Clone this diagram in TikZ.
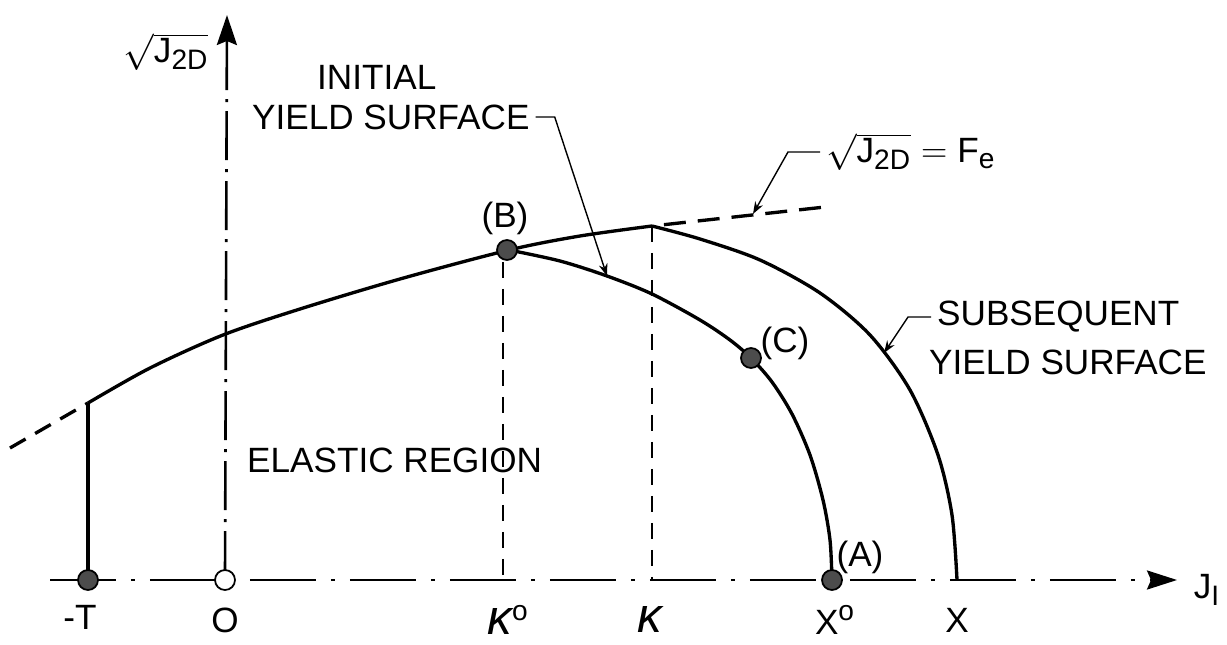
\documentclass[tikz,border=0pt]{standalone}
\usepackage{fontspec}
\setmainfont{Liberation Sans}
\usepackage{amsmath}
\DeclareMathSizes{20}{20}{16}{12}
\usetikzlibrary{arrows.meta, positioning}

\newcommand{\kap}{{\fontsize{28}{28}\selectfont\itshape κ}}

\begin{document}
\begin{tikzpicture}[x=0.02cm, y=-0.02cm,
  lbl/.style={font=\fontsize{20}{24}\selectfont},
  curve/.style={line width=1.9pt, line join=round},
  ext/.style={line width=1.9pt, dash pattern=on 0.44cm off 0.24cm},
  proj/.style={line width=1.1pt, dash pattern=on 0.32cm off 0.22cm},
  haxis/.style={line width=1.5pt, dash pattern=on 1.32cm off 0.3cm on 0.08cm off 0.3cm,
                -{Stealth[length=0.6cm, width=0.38cm, inset=0.08cm]}},
  vaxis/.style={line width=1.5pt, dash pattern=on 0.98cm off 0.18cm on 0.06cm off 0.18cm,
                -{Stealth[length=0.6cm, width=0.4cm, inset=0.08cm]}},
  ldr/.style={line width=0.8pt, -{Stealth[length=7pt, width=5pt]}},
  statept/.style={circle, draw=black, fill=black!70, line width=1pt,
                  minimum size=0.4cm, inner sep=0pt},
  opendot/.style={statept, fill=white}
]
  \useasboundingbox (0,0) rectangle (1227,645);

  \coordinate (xstart) at (50,580);
  \coordinate (xtip)   at (1177,580);
  \coordinate (O)      at (225,580);
  \coordinate (ytip)   at (227,15);
  \coordinate (T)      at (88,580);
  \coordinate (Tc)     at (88,403);
  \coordinate (Tx)     at (10,448);
  \coordinate (B)      at (507,250);
  \coordinate (Bd)     at (503,262);
  \coordinate (Bo)     at (503,580);
  \coordinate (K)      at (652,226);
  \coordinate (Ko)     at (652,580);
  \coordinate (Fx)     at (825,207);
  \coordinate (C)      at (751,358);
  \coordinate (A)      at (832,580);
  \coordinate (X)      at (957,580);
  \coordinate (pInit)  at (607,276);
  \coordinate (pFe)    at (753,214);
  \coordinate (pSub)   at (884,353);

  \draw[haxis] (xstart) -- (xtip);
  \draw[vaxis] (O) -- (ytip);

  \draw[ext, dash pattern=on 0.36cm off 0.22cm] (Tx) -- (Tc);
  \draw[curve] (T) -- (Tc);
  \draw[curve] plot[smooth] coordinates {(88,403) (150,368) (223,335) (300,309)
    (400,279) (509,250) (580,236) (652,226)};
  \draw[ext, dash phase=0.44cm] (K) -- (Fx);

  \draw[curve] plot[smooth] coordinates {(509,250) (560,261) (607,276) (652,294)
    (700,320) (730,340) (751,358) (772,382) (792,414) (810,455) (823,500)
    (830,540) (832,580)};
  \draw[curve] plot[smooth] coordinates {(652,226) (700,239) (760,260) (820,293)
    (870,335) (910,390) (938,455) (952,515) (957,580)};

  \draw[proj] (Bd) -- (Bo);
  \draw[proj] (K) -- (Ko);

  \node[statept] (Tdot) at (T) {};
  \node[opendot] (Odot) at (O) {};
  \node[statept] (Bdot) at (B) {};
  \node[statept] (Cdot) at (C) {};
  \node[statept] (Adot) at (A) {};

  \node[lbl] (ylbl) at (166,52) {$\sqrt{\text{J}_{\text{2D}}}$};
  \node[lbl, anchor=west] (init1) at (311,77) {INITIAL};
  \node[lbl, anchor=west] (init2) at (246,117) {YIELD SURFACE};
  \node[lbl, anchor=west] (fe) at (820,152) {$\sqrt{\text{J}_{\text{2D}}} = \text{F}_{\text{e}}$};
  \node[lbl, anchor=west] (sub1) at (931,317) {SUBSEQUENT};
  \node[lbl, anchor=west] (sub2) at (923,362) {YIELD SURFACE};
  \node[lbl, anchor=west] (elas) at (241,460) {ELASTIC REGION};

  \node[lbl] (Blbl) at (505,218) {(B)};
  \node[lbl] (Clbl) at (785,343) {(C)};
  \node[lbl] (Albl) at (860,557) {(A)};

  \node[lbl] (Tlbl)  at (80,617)  {-T};
  \node[lbl] (Olbl)  at (225,620) {O};
  \node[lbl] (K0lbl) at (508,620) {\kap\textsuperscript{o}};
  \node[lbl] (Klbl)  at (650,620) {\kap};
  \node[lbl] (X0lbl) at (835,620) {X\textsuperscript{o}};
  \node[lbl] (Xlbl)  at (957,620) {X};
  \node[lbl] (Jlbl)  at (1207,590) {$\text{J}_{\text{I}}$};

  \draw[ldr] (init2.east) -- ++(19,0) -- (pInit);
  \draw[ldr] (fe.west) -- ++(-32,0) -- (pFe);
  \draw[ldr] (sub1.west) -- ++(-23,0) -- (pSub);
\end{tikzpicture}
\end{document}
